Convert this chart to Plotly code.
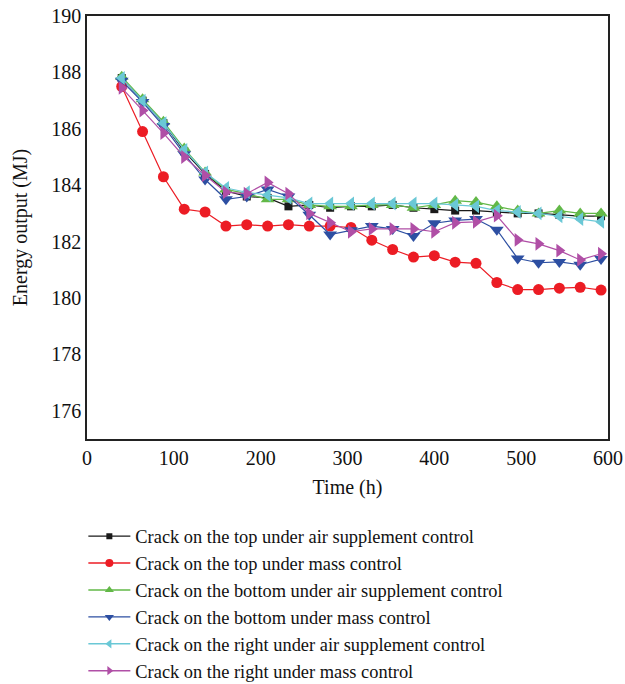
import plotly.graph_objects as go

# Operating time (h)
hours = [40, 64, 88, 112, 136, 160, 184, 208, 232, 256, 280, 304,
         328, 352, 376, 400, 424, 448, 472, 496, 520, 544, 568, 592]

# Energy output (MJ) for each crack position / control strategy
top_air = [187.8, 187.0, 186.2, 185.2, 184.4, 183.8, 183.6, 183.55, 183.25, 183.3, 183.2, 183.25,
           183.25, 183.3, 183.2, 183.15, 183.1, 183.1, 183.05, 183.0, 183.0, 182.95, 182.9, 182.9]
top_mass = [187.5, 185.9, 184.3, 183.15, 183.05, 182.55, 182.6, 182.55, 182.6, 182.55, 182.55, 182.5,
            182.05, 181.72, 181.45, 181.5, 181.27, 181.23, 180.55, 180.3, 180.3, 180.35, 180.38, 180.28]
bottom_air = [187.85, 187.05, 186.25, 185.3, 184.45, 183.85, 183.7, 183.5, 183.5, 183.3, 183.25, 183.25,
              183.3, 183.3, 183.2, 183.3, 183.45, 183.4, 183.25, 183.1, 183.0, 183.1, 183.0, 183.0]
bottom_mass = [187.7, 186.95, 186.1, 185.1, 184.2, 183.5, 183.6, 183.85, 183.6, 182.95, 182.25, 182.4,
               182.55, 182.45, 182.2, 182.65, 182.75, 182.8, 182.42, 181.4, 181.25, 181.28, 181.18, 181.38]
right_air = [187.8, 187.0, 186.2, 185.25, 184.45, 183.9, 183.75, 183.65, 183.55, 183.35, 183.35, 183.35,
             183.35, 183.35, 183.35, 183.35, 183.3, 183.25, 183.1, 183.05, 183.0, 182.9, 182.8, 182.7]
right_mass = [187.45, 186.65, 185.85, 185.0, 184.35, 183.75, 183.7, 184.1, 183.7, 183.0, 182.67, 182.35,
              182.45, 182.45, 182.45, 182.35, 182.67, 182.7, 182.92, 182.06, 181.92, 181.68, 181.35, 181.57]

series = [
    ("Crack on the top under air supplement control", top_air, "#1a1a1a", "square"),
    ("Crack on the top under mass control", top_mass, "#ec1c24", "circle"),
    ("Crack on the bottom under air supplement control", bottom_air, "#62b847", "triangle-up"),
    ("Crack on the bottom under mass control", bottom_mass, "#2d4fa2", "triangle-down"),
    ("Crack on the right under air supplement control", right_air, "#6ac8d6", "triangle-left"),
    ("Crack on the right under mass control", right_mass, "#b04fa6", "triangle-right"),
]

FONT = "Liberation Serif"
FS = 20
LEGEND_FS = 18.4

fig = go.Figure()
for i, (name, vals, color, symbol) in enumerate(series):
    size = 11 if symbol == "circle" else (8 if symbol == "square" else 12)
    fig.add_trace(go.Scatter(
        x=hours, y=vals, name=name, mode="lines+markers",
        legendgroup=f"g{i}", showlegend=False,
        line=dict(color=color, width=1.2),
        marker=dict(symbol=symbol, size=size, color=color, line=dict(width=0)),
    ))

# Legend entries use smaller symbols than the plotted markers
for i, (name, vals, color, symbol) in enumerate(series):
    lsize = 8 if symbol == "circle" else (6 if symbol == "square" else 8)
    fig.add_trace(go.Scatter(
        x=[None], y=[None], name=name, mode="lines+markers",
        legendgroup=f"g{i}", showlegend=True,
        line=dict(color=color, width=1.4),
        marker=dict(symbol=symbol, size=lsize, color=color, line=dict(width=0)),
    ))

axis_common = dict(
    showgrid=False, zeroline=False, showline=True, mirror=True,
    linecolor="#222", linewidth=1.5, ticks="",
    tickfont=dict(family=FONT, size=FS, color="#111"),
)

fig.update_layout(
    width=625, height=684,
    margin=dict(l=87, r=17, t=16, b=245, autoexpand=False),
    paper_bgcolor="white", plot_bgcolor="white",
    font=dict(family=FONT, size=FS, color="#111"),
    xaxis=dict(range=[0, 600], tickvals=[0, 100, 200, 300, 400, 500, 600],
               title=dict(text="Time (h)", font=dict(family=FONT, size=FS), standoff=12),
               **axis_common),
    yaxis=dict(range=[175, 190], tickvals=[176, 178, 180, 182, 184, 186, 188, 190],
               title=dict(text="Energy output (MJ)", font=dict(family=FONT, size=FS), standoff=18),
               **axis_common),
    legend=dict(
        x=-0.007, xanchor="left", y=-0.186, yanchor="top",
        font=dict(family=FONT, size=LEGEND_FS, color="#111"),
        tracegroupgap=0, itemwidth=42, bgcolor="rgba(0,0,0,0)",
    ),
    showlegend=True,
)

fig.write_html("out.html")
